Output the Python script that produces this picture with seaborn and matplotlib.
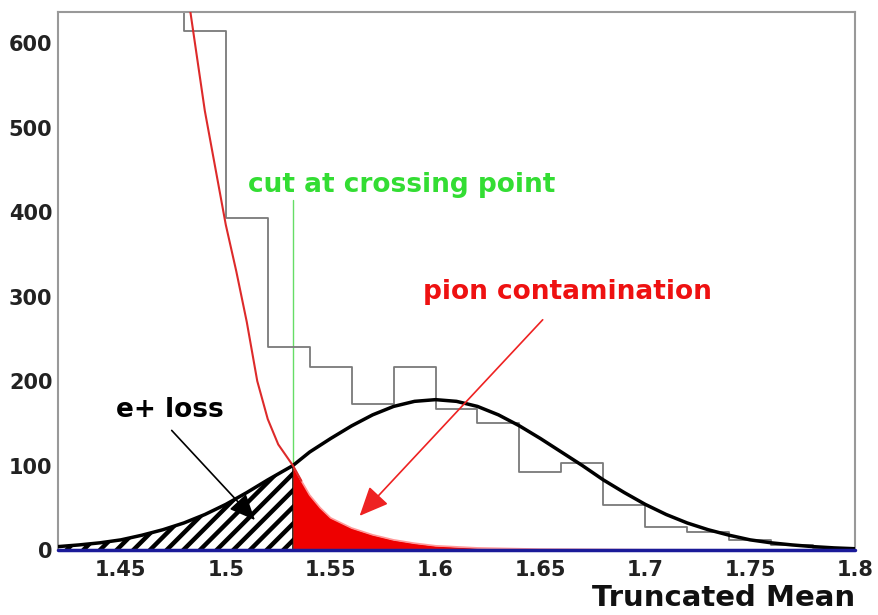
import numpy as np
import matplotlib
matplotlib.use('Agg')
import matplotlib.pyplot as plt
import seaborn as sns
from matplotlib.ticker import MultipleLocator

#%% values
# histogram of truncated mean, bins of 0.02
bin_edges = [1.42, 1.44, 1.46, 1.48, 1.50, 1.52, 1.54, 1.56, 1.58, 1.60,
             1.62, 1.64, 1.66, 1.68, 1.70, 1.72, 1.74, 1.76, 1.78, 1.80]
counts = [1500, 1100, 820, 615, 393, 240, 217, 173, 217, 167,
          150, 92, 103, 53, 27, 21, 12, 6, 2]

# positron fit (black curve)
gauss_x = [1.42, 1.43, 1.44, 1.45, 1.46, 1.47, 1.48, 1.49, 1.50, 1.51, 1.52, 1.532,
           1.54, 1.55, 1.56, 1.57, 1.58, 1.59, 1.60, 1.61, 1.62, 1.63, 1.64, 1.65,
           1.66, 1.67, 1.68, 1.69, 1.70, 1.71, 1.72, 1.73, 1.74, 1.75, 1.76, 1.77,
           1.78, 1.79, 1.80]
gauss_y = [4, 6, 8.5, 12, 17.5, 24, 32, 42, 54, 68, 83, 100,
           116, 132, 147, 160, 170, 176, 178, 176, 170, 160, 147, 132,
           116, 100, 83, 68, 54, 42, 32, 24, 17.5, 12, 8.5, 6,
           4, 2.5, 1.5]

# pion fit (red curve)
pion_x = [1.47, 1.48, 1.49, 1.50, 1.505, 1.51, 1.515, 1.52, 1.525, 1.532,
          1.536, 1.54, 1.545, 1.55, 1.56, 1.57, 1.58, 1.59, 1.60, 1.62, 1.65, 1.70, 1.80]
pion_y = [800, 690, 520, 385, 330, 270, 200, 155, 125, 100,
          82, 65, 50, 38, 26, 18, 12, 8, 5, 2.5, 1, 0.3, 0]

cut = 1.532
cut_label = 'cut at crossing point'

#%% plotting
sns.set_style('white')
plt.rcParams['hatch.linewidth'] = 3.2
fig = plt.figure(figsize=(8.79, 6.15), dpi=100)
ax = fig.add_axes([0.066, 0.1057, 0.9067, 0.8748])

centers = [(bin_edges[i] + bin_edges[i + 1]) / 2 for i in range(len(counts))]
sns.histplot(x=centers, weights=counts, bins=bin_edges, element='step', fill=False,
             color='#7a7a7a', linewidth=1.3, ax=ax)

gx = np.array(gauss_x)
gy = np.array(gauss_y)
m = gx <= cut
ax.fill_between(gx[m], 0, gy[m], facecolor='white', edgecolor='black',
                hatch='//', linewidth=1.0, zorder=2)

px = np.array(pion_x)
py = np.array(pion_y)
m2 = px >= cut
ax.fill_between(px[m2], 0, py[m2], color='#ee0000', linewidth=0, zorder=2)
ax.plot(px[m2], py[m2], color='#ff9999', lw=1.2, zorder=3)

ax.plot([cut, cut], [0, 414], color='#66dd66', lw=1.0, zorder=1)

sns.lineplot(x=gauss_x, y=gauss_y, color='black', lw=2.5, ax=ax, zorder=4)
sns.lineplot(x=pion_x[:11], y=pion_y[:11], color='#dd2a2a', lw=1.5, ax=ax, zorder=4)
ax.plot([1.42, 1.80], [0, 0], color='#1a1a99', lw=2.5, zorder=5, clip_on=False)

ax.text(1.5838, 432, cut_label, color='#33dd33', fontsize=19, fontweight='bold',
        ha='center', va='center')
ax.text(1.6629, 305, 'pion contamination', color='#ee1111', fontsize=19,
        fontweight='bold', ha='center', va='center')
ax.text(1.4733, 166, 'e+ loss', color='black', fontsize=19, fontweight='bold',
        ha='center', va='center')

ax.annotate('', xy=(1.5629, 38), xytext=(1.652, 275),
            arrowprops=dict(arrowstyle='-|>,head_length=1.8,head_width=0.8',
                            color='#ee2222', lw=1.2), zorder=6)
ax.annotate('', xy=(1.5148, 33), xytext=(1.4733, 144),
            arrowprops=dict(arrowstyle='-|>,head_length=1.6,head_width=0.7',
                            color='black', lw=1.2), zorder=6)

ax.set_xlim(1.42, 1.80)
ax.set_ylim(0, 637)
ax.set_xlabel('')
ax.set_ylabel('')
ax.xaxis.set_minor_locator(MultipleLocator(0.025))
ax.yaxis.set_major_locator(MultipleLocator(100))
ax.yaxis.set_minor_locator(MultipleLocator(50))
ax.set_xticks([1.45, 1.5, 1.55, 1.6, 1.65, 1.7, 1.75, 1.8])
ax.set_xticklabels(['1.45', '1.5', '1.55', '1.6', '1.65', '1.7', '1.75', '1.8'])
ax.tick_params(axis='y', which='major', direction='in', length=18, width=1.3,
               color='#888888', labelsize=15, pad=4, labelcolor='#222222')
ax.tick_params(axis='y', which='minor', direction='in', length=9, width=1.0, color='#888888')
ax.tick_params(axis='x', which='major', direction='in', length=10, width=1.0,
               color='#888888', labelsize=15, pad=7, labelcolor='#222222')
ax.tick_params(axis='x', which='minor', direction='in', length=6, width=1.0, color='#888888')
for lab in ax.get_xticklabels() + ax.get_yticklabels():
    lab.set_fontweight('bold')
for s in ax.spines.values():
    s.set_color('#999999')
    s.set_linewidth(1.5)

fig.text(855 / 879, 1 - 598 / 615, 'Truncated Mean', fontsize=21, fontweight='bold',
         ha='right', va='center', color='#111111')

plt.savefig('out.png', dpi=100)
